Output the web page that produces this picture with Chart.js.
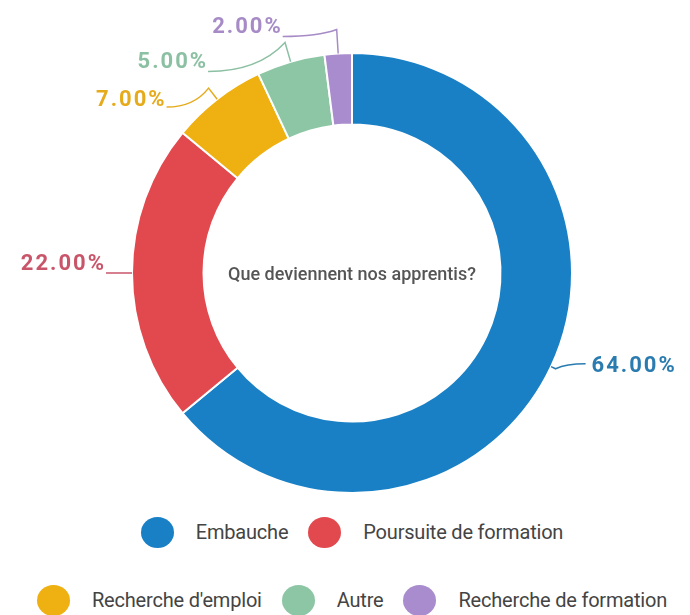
<!DOCTYPE html>
<html lang="fr">
<head>
<meta charset="utf-8">
<title>Que deviennent nos apprentis?</title>
<script src="https://cdn.jsdelivr.net/npm/chart.js@4/dist/chart.umd.min.js"></script>
<style>
	html, body { margin: 0; padding: 0; background: #fff; }
	#page { position: relative; width: 690px; height: 615px; overflow: hidden; font-family: Roboto, sans-serif; }
	#chartBox { position: absolute; left: 0; top: 0; width: 690px; height: 500px; }
	.legend-row { position: absolute; left: 0; width: 704px; display: flex; justify-content: center; align-items: center; height: 32px; }
	.legend-item { display: flex; align-items: center; margin: 0 10px; }
	.legend-dot { width: 33px; height: 31px; border-radius: 50%; margin-right: 22px; }
	.legend-text { font-size: 20px; color: #444; letter-spacing: -0.2px; }
</style>
</head>
<body>
<div id="page">
	<div id="chartBox"><canvas id="donut"></canvas></div>
	<div class="legend-row" id="legendRow1" style="top:516px"></div>
	<div class="legend-row" id="legendRow2" style="top:584px"></div>
</div>
<script>
	// =====================================
	// DATA
	// =====================================

	const categories = ['Embauche', 'Poursuite de formation', "Recherche d'emploi", 'Autre', 'Recherche de formation'];
	const values = [64, 22, 7, 5, 2];
	const centerTitle = 'Que deviennent nos apprentis?';

	// =====================================
	// STYLE
	// =====================================

	const sliceColors = ['#1980c6', '#e2494e', '#efb011', '#8dc6a4', '#a98ccd'];
	const labelColors = ['#2a7cb0', '#c9556a', '#e6ab1c', '#8cc0a3', '#a78bc6'];
	const legendRows = [2, 3]; // items per legend row

	// leader line: radial extension, end offset from elbow, text offset from end
	const leaderLines = [
		{ ext: 5, dx: 30, dy: -5, textDx: 3, textDy: 3, align: 'left' },
		{ ext: 0, dx: -26, dy: 0, textDx: 0, textDy: -9, align: 'right' },
		{ ext: 14, dx: -42, dy: 19, textDx: 0, textDy: -7, align: 'right' },
		{ ext: 20, dx: -77, dy: 29, textDx: 0, textDy: -9, align: 'right' },
		{ ext: 24, dx: -54, dy: 7, textDx: 0, textDy: -9, align: 'right' },
	];

	const formatPct = (v) => `${v.toFixed(2)}%`;

	// =====================================
	// PLUGINS
	// =====================================

	const outsideLabels = {
		id: 'outsideLabels',
		afterDatasetsDraw(chart) {
			const { ctx } = chart;
			const arcs = chart.getDatasetMeta(0).data;

			arcs.forEach((arc, i) => {
				const { x, y, startAngle, endAngle, outerRadius } = arc.getProps(['x', 'y', 'startAngle', 'endAngle', 'outerRadius'], true);
				const mid = (startAngle + endAngle) / 2;
				const cfg = leaderLines[i];

				const ax = x + Math.cos(mid) * outerRadius;
				const ay = y + Math.sin(mid) * outerRadius;
				const ex = x + Math.cos(mid) * (outerRadius + cfg.ext);
				const ey = y + Math.sin(mid) * (outerRadius + cfg.ext);
				const tx = ex + cfg.dx;
				const ty = ey + cfg.dy;

				ctx.save();
				ctx.strokeStyle = labelColors[i];
				ctx.lineWidth = 1.5;
				ctx.beginPath();
				ctx.moveTo(ax, ay);
				ctx.lineTo(ex, ey);
				ctx.quadraticCurveTo(ex + cfg.dx * 0.35, ty, tx, ty);
				ctx.stroke();

				ctx.font = 'bold 22px Roboto';
				ctx.letterSpacing = '2px';
				ctx.fillStyle = labelColors[i];
				ctx.textBaseline = 'middle';
				ctx.textAlign = cfg.align;
				const gap = cfg.align === 'left' ? 3 : 0;
				ctx.fillText(formatPct(values[i]), tx + gap + cfg.textDx, ty + cfg.textDy);
				ctx.restore();
			});
		},
	};

	const centerText = {
		id: 'centerText',
		afterDatasetsDraw(chart) {
			const { ctx } = chart;
			const arc = chart.getDatasetMeta(0).data[0];
			if (!arc) return;
			ctx.save();
			ctx.font = '500 18px Roboto';
			ctx.fillStyle = '#555';
			ctx.textAlign = 'center';
			ctx.textBaseline = 'middle';
			ctx.fillText(centerTitle, arc.x, arc.y + 2);
			ctx.restore();
		},
	};

	// =====================================
	// CHART
	// =====================================

	new Chart(document.getElementById('donut'), {
		type: 'doughnut',
		data: {
			labels: categories,
			datasets: [
				{
					data: values,
					backgroundColor: sliceColors,
					borderColor: '#ffffff',
					borderWidth: 2,
					hoverOffset: 0,
				},
			],
		},
		options: {
			responsive: true,
			maintainAspectRatio: false,
			animation: false,
			cutout: '67.5%',
			layout: {
				padding: { top: 52, bottom: 6, left: 131, right: 117 },
			},
			plugins: {
				legend: { display: false },
				tooltip: { enabled: false },
			},
		},
		plugins: [outsideLabels, centerText],
	});

	// =====================================
	// HTML LEGEND
	// =====================================

	const rowEls = [document.getElementById('legendRow1'), document.getElementById('legendRow2')];
	let idx = 0;
	legendRows.forEach((count, r) => {
		for (let k = 0; k < count; k++, idx++) {
			const item = document.createElement('div');
			item.className = 'legend-item';
			item.innerHTML = `<span class="legend-dot" style="background:${sliceColors[idx]}"></span><span class="legend-text">${categories[idx]}</span>`;
			rowEls[r].appendChild(item);
		}
	});
</script>
</body>
</html>
